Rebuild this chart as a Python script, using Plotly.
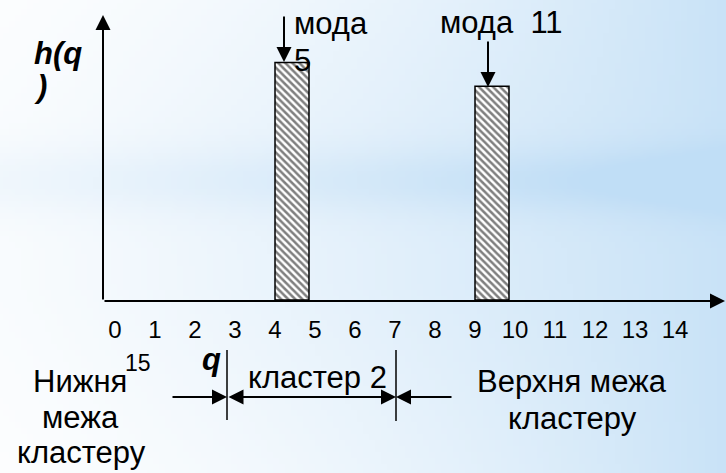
import base64
import struct
import zlib

import numpy as np
import plotly.graph_objects as go

# ---------------- data ----------------
q_values = [4, 9]            # positions of the two modes (cluster bars)
h_values = [10, 9]           # histogram heights h(q)
q_ticks = list(range(15))    # tick positions on q axis
tick_labels = [str(v) for v in q_ticks]
stray_label = "15"
bar_width = 0.85

# ---------------- geometry helpers ----------------
W, H = 726, 473
ML, MR, MT, MB = 103, 1, 15, 173
PW, PH = W - ML - MR, H - MT - MB
FONT = "Liberation Sans, Arial, sans-serif"
BIG = 31


def px(x):
    return (x - ML) / PW


def py(y):
    return (H - MB - y) / PH


# ---------------- background gradient image ----------------
def make_png(w, h, arr):
    raw = b"".join(b"\x00" + arr[i].tobytes() for i in range(h))

    def chunk(t, d):
        c = struct.pack(">I", len(d)) + t + d
        return c + struct.pack(">I", zlib.crc32(t + d) & 0xFFFFFFFF)

    return (b"\x89PNG\r\n\x1a\n"
            + chunk(b"IHDR", struct.pack(">IIBBBBB", w, h, 8, 2, 0, 0, 0))
            + chunk(b"IDAT", zlib.compress(raw, 9))
            + chunk(b"IEND", b""))


gw, gh = 121, 79
yy, xx = np.mgrid[0:gh, 0:gw].astype(float)
fx = xx / (gw - 1)
fy = yy / (gh - 1)
b = 0.1 + 0.75 * fx ** 1.2
b += 0.35 * np.exp(-((fy - 0.38) / 0.07) ** 2) * (0.4 + 0.6 * fx)
b *= 1 - 0.6 * np.clip((fy - 0.6) / 0.4, 0, 1) * (1 - fx)
b *= 1 - 0.5 * np.clip(1 - fy / 0.3, 0, 1) * (1 - fx)
b = np.clip(b, 0, 1)
white = np.array([255, 255, 255], float)
blue = np.array([192, 222, 246], float)
img = (white[None, None, :] * (1 - b[..., None]) + blue[None, None, :] * b[..., None])
img = np.clip(img, 0, 255).astype(np.uint8)
bg_uri = "data:image/png;base64," + base64.b64encode(make_png(gw, gh, img)).decode()

# ---------------- figure ----------------
fig = go.Figure()
fig.add_trace(go.Bar(
    x=q_values, y=h_values, width=bar_width, offset=0,
    marker=dict(color="white", line=dict(color="black", width=1.5),
                pattern=dict(shape="\\", fgcolor="black", bgcolor="white",
                             size=5, solidity=0.5)),
    hoverinfo="skip",
))

fig.update_layout(
    width=W, height=H,
    margin=dict(l=ML, r=MR, t=MT, b=MB, pad=0),
    paper_bgcolor="white", plot_bgcolor="rgba(0,0,0,0)",
    showlegend=False,
    xaxis=dict(range=[-0.3, 15.25], tickvals=q_ticks, ticktext=tick_labels,
               showgrid=False, zeroline=False, showline=False, ticks="",
               ticklabelstandoff=13,
               tickfont=dict(family=FONT, size=24, color="black")),
    yaxis=dict(range=[0, 12], visible=False),
    images=[dict(source=bg_uri, xref="paper", yref="paper",
                 x=px(0), y=py(0), sizex=W / PW, sizey=H / PH,
                 sizing="stretch", layer="below", xanchor="left", yanchor="top")],
)

anns = []


def arrow(tipx, tipy, tailx, taily, side="end"):
    anns.append(dict(x=px(tipx), y=py(tipy), xref="paper", yref="paper",
                     ax=tailx - tipx, ay=taily - tipy, axref="pixel", ayref="pixel",
                     text="", showarrow=True, arrowhead=2, arrowsize=1.5,
                     arrowwidth=2, arrowcolor="black", arrowside=side,
                     startarrowhead=2, startarrowsize=1.5, standoff=0, startstandoff=0))


def text(t, x, y, size=BIG, xanchor="center", align="center"):
    anns.append(dict(x=px(x), y=py(y), xref="paper", yref="paper", text=t,
                     showarrow=False, xanchor=xanchor, yanchor="middle", align=align,
                     font=dict(family=FONT, size=size, color="black")))


# axes with arrowheads
arrow(725, 301, 103, 301)
arrow(103, 15, 103, 301)

# mode arrows
arrow(284, 62, 284, 15)
arrow(488, 87, 488, 40)

# cluster boundary arrows
arrow(227, 397, 171, 397)
arrow(396, 397, 227, 397, side="end+start")
arrow(396, 397, 453, 397)

# texts
text("<b><i>h(q</i></b>", 32, 54, xanchor="left", align="left")
text("<b><i>)</i></b>", 32, 86, xanchor="left", align="left")
text("мода", 292, 24, xanchor="left", align="left")
text("5", 292, 60, xanchor="left", align="left")
text("мода\u00a0\u00a011", 501, 23)
text("Нижня", 80, 381)
text("межа", 80, 417)
text("кластеру", 81, 453)
text(stray_label, 138, 363, size=23)
text("<b><i>q</i></b>", 211, 359)
text("кластер 2", 317, 377)
text("Верхня межа", 572, 381)
text("кластеру", 572, 418)

fig.update_layout(annotations=anns)

shapes = [
    dict(type="line", xref="paper", yref="paper", x0=px(227), x1=px(227),
         y0=py(350), y1=py(420), line=dict(color="black", width=1.5)),
    dict(type="line", xref="paper", yref="paper", x0=px(396), x1=px(396),
         y0=py(350), y1=py(421), line=dict(color="black", width=1.5)),
]
fig.update_layout(shapes=shapes)

fig.write_html(
    "out.html",
    config={"displayModeBar": False},
    post_script="document.body.style.margin='0';document.body.style.overflow='hidden';",
)
